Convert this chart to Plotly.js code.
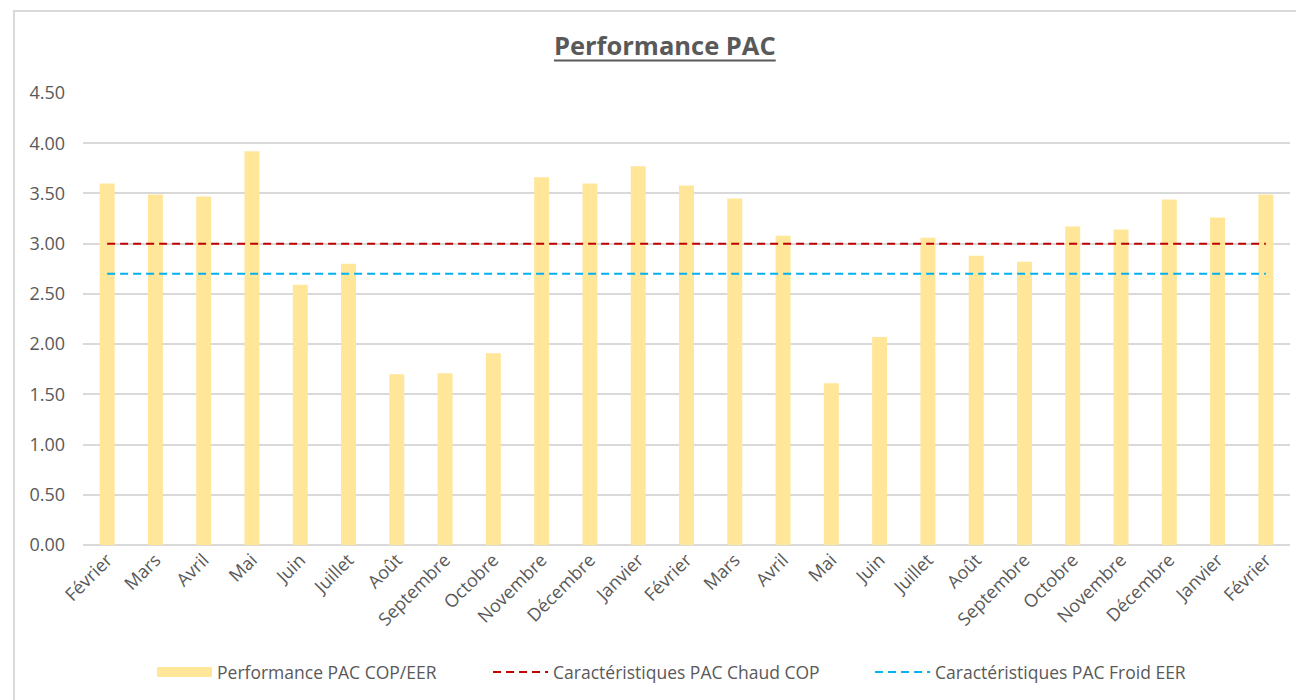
<!DOCTYPE html>
<html>
<head>
<meta charset="utf-8">
<script src="https://cdn.plot.ly/plotly-3.0.1.min.js"></script>
<style>
  html, body { margin: 0; padding: 0; background: #fff; overflow: hidden; }
  #chart { position: absolute; left: 0; top: 0; width: 1296px; height: 700px; }
  #frame { position: absolute; left: 13px; top: 10px; width: 1400px; height: 800px;
           border: 2px solid #D9D9D9; pointer-events: none; box-sizing: border-box; }
</style>
</head>
<body>
<div id="chart"></div>
<div id="frame"></div>
<script>
// ---- data ----
const months = ["Février","Mars","Avril","Mai","Juin","Juillet","Août","Septembre","Octobre","Novembre","Décembre","Janvier",
                "Février","Mars","Avril","Mai","Juin","Juillet","Août","Septembre","Octobre","Novembre","Décembre","Janvier","Février"];
const performance = [3.60, 3.49, 3.47, 3.92, 2.59, 2.80, 1.70, 1.71, 1.91, 3.66, 3.60, 3.77,
                     3.58, 3.45, 3.08, 1.61, 2.07, 3.06, 2.88, 2.82, 3.17, 3.14, 3.44, 3.26, 3.49];
const chaudCOP = [3.0, 3.0, 3.0, 3.0, 3.0, 3.0, 3.0, 3.0, 3.0, 3.0, 3.0, 3.0,
                  3.0, 3.0, 3.0, 3.0, 3.0, 3.0, 3.0, 3.0, 3.0, 3.0, 3.0, 3.0, 3.0];
const froidEER = [2.7, 2.7, 2.7, 2.7, 2.7, 2.7, 2.7, 2.7, 2.7, 2.7, 2.7, 2.7,
                  2.7, 2.7, 2.7, 2.7, 2.7, 2.7, 2.7, 2.7, 2.7, 2.7, 2.7, 2.7, 2.7];
const yTicks = [0, 0.5, 1, 1.5, 2, 2.5, 3, 3.5, 4, 4.5];
const yTickLabels = ["0.00","0.50","1.00","1.50","2.00","2.50","3.00","3.50","4.00","4.50"];
const seriesNames = ["Performance PAC COP/EER", "Caractéristiques PAC Chaud COP", "Caractéristiques PAC Froid EER"];

const xIdx = months.map((m, i) => i);
const FONT = "'Open Sans', 'Liberation Sans', sans-serif";
const TXT = "#595959";

const traces = [
  { type: "bar", x: xIdx, y: performance, name: seriesNames[0], width: 0.31,
    marker: { color: "#FFE699" }, showlegend: false, hoverinfo: "skip" },
  { type: "scatter", mode: "lines", x: [null], y: [null], name: seriesNames[0], legend: "legend",
    line: { color: "#FFE699", width: 13 }, showlegend: true, hoverinfo: "skip" },
  { type: "scatter", mode: "lines", x: xIdx, y: chaudCOP, name: seriesNames[1], legend: "legend2",
    line: { color: "#C00000", width: 2, dash: "8px,5px" }, hoverinfo: "skip" },
  { type: "scatter", mode: "lines", x: xIdx, y: froidEER, name: seriesNames[2], legend: "legend3",
    line: { color: "#00B0F0", width: 2, dash: "8px,5px" }, hoverinfo: "skip" }
];

const legBase = {
  orientation: "h", xanchor: "left", y: -0.281, yanchor: "middle",
  font: { family: FONT, size: 17.5, color: TXT }, itemwidth: 55, bgcolor: "rgba(0,0,0,0)"
};

const layout = {
  width: 1296, height: 700,
  margin: { l: 83, r: 6, t: 93, b: 155 },
  paper_bgcolor: "rgba(0,0,0,0)", plot_bgcolor: "rgba(0,0,0,0)",
  font: { family: FONT, color: TXT, size: 18 },
  title: { text: "<b>Performance PAC</b>", font: { family: FONT, size: 25.5, color: TXT },
           x: 0.513, xanchor: "center", xref: "container", y: 49, yref: "container", yanchor: "middle" },
  xaxis: {
    range: [-0.5, 24.5], tickmode: "array", tickvals: xIdx, ticktext: months,
    tickangle: -45, showgrid: false, zeroline: false, showline: false, ticks: "",
    tickfont: { family: FONT, size: 18, color: TXT }
  },
  yaxis: {
    range: [0, 4.5], tickmode: "array", tickvals: yTicks, ticktext: yTickLabels,
    showgrid: true, gridcolor: "#D9D9D9", gridwidth: 2, zeroline: true, zerolinecolor: "#D9D9D9",
    zerolinewidth: 2, showline: false, ticks: "", ticklabelstandoff: 17,
    tickfont: { family: FONT, size: 18, color: TXT }
  },
  legend:  Object.assign({}, legBase, { x: 0.0572 }),
  legend2: Object.assign({}, legBase, { x: 0.3356 }),
  legend3: Object.assign({}, legBase, { x: 0.6521 }),
  showlegend: true
};

Plotly.newPlot("chart", traces, layout, { displayModeBar: false, staticPlot: true }).then(() => {
  // underline the title
  const t = document.querySelector(".gtitle");
  if (t) {
    const bb = t.getBBox();
    const line = document.createElementNS("http://www.w3.org/2000/svg", "line");
    line.setAttribute("x1", bb.x); line.setAttribute("x2", bb.x + bb.width);
    line.setAttribute("y1", bb.y + bb.height - 2); line.setAttribute("y2", bb.y + bb.height - 2);
    line.setAttribute("stroke", TXT); line.setAttribute("stroke-width", "2");
    t.parentNode.appendChild(line);
  }
});
</script>
</body>
</html>
